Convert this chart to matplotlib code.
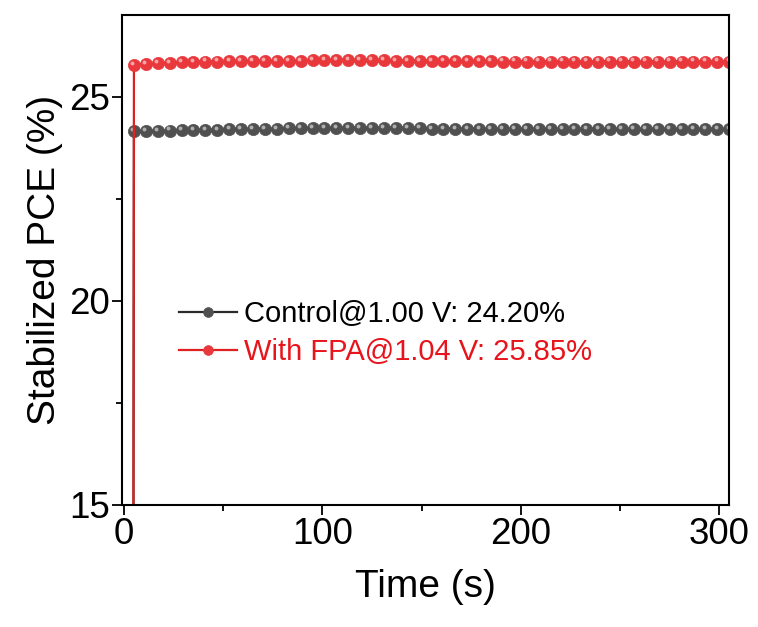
import matplotlib
matplotlib.use("Agg")
import matplotlib.pyplot as plt
import matplotlib.transforms as mtransforms
from matplotlib.ticker import MultipleLocator

plt.rcParams['font.family'] = ['Liberation Sans', 'DejaVu Sans']

time_s = [5 + 6 * i for i in range(51)]
control = [24.15, 24.16, 24.16, 24.17, 24.18, 24.18, 24.19, 24.19, 24.20, 24.20,
           24.21, 24.21, 24.21, 24.22, 24.22, 24.22, 24.22, 24.22, 24.22, 24.23,
           24.23, 24.23, 24.22, 24.22, 24.22, 24.21, 24.21, 24.21, 24.21, 24.21,
           24.20, 24.20, 24.20, 24.20, 24.20, 24.20, 24.20, 24.20, 24.20, 24.20,
           24.20, 24.20, 24.20, 24.20, 24.20, 24.20, 24.20, 24.20, 24.20, 24.20, 24.20]
fpa = [25.78, 25.80, 25.82, 25.83, 25.84, 25.85, 25.86, 25.86, 25.87, 25.87,
       25.88, 25.88, 25.88, 25.88, 25.88, 25.89, 25.89, 25.89, 25.89, 25.89,
       25.89, 25.89, 25.88, 25.88, 25.88, 25.88, 25.87, 25.87, 25.87, 25.87,
       25.87, 25.86, 25.86, 25.86, 25.86, 25.86, 25.86, 25.86, 25.86, 25.86,
       25.86, 25.86, 25.86, 25.86, 25.86, 25.86, 25.86, 25.86, 25.86, 25.86, 25.86]
# initial ramp points (before steady state)
ramp_t = [4.4]
ramp_control = [0.0]
ramp_fpa = [0.0]

labels = ["Control@1.00 V: 24.20%", "With FPA@1.04 V: 25.85%"]

fig = plt.figure(figsize=(7.58, 6.27), dpi=100)
ax = fig.add_axes([0.161, 0.195, 0.801, 0.781])

series = [
    (control, ramp_control, '#505050', '#2b2b2b', labels[0]),
    (fpa, ramp_fpa, '#e8383c', '#e02020', labels[1]),
]
hl = mtransforms.offset_copy(ax.transData, fig=fig, x=-1.2, y=1.5, units='points')
for vals, ramp, mcol, lcol, lab in series:
    ax.plot(ramp_t + time_s, ramp + vals, '-', color=lcol, lw=1.6,
            marker='o', markersize=8.8, markerfacecolor=mcol,
            markeredgecolor=mcol, markeredgewidth=0.5, label=lab)
    ax.plot(time_s, vals, 'o', color='white', markersize=2.8, alpha=0.55,
            markeredgewidth=0, transform=hl)

ax.set_xlim(-1, 305)
ax.set_ylim(15, 27)
ax.xaxis.set_major_locator(MultipleLocator(100))
ax.xaxis.set_minor_locator(MultipleLocator(50))
ax.yaxis.set_major_locator(MultipleLocator(5))
ax.yaxis.set_minor_locator(MultipleLocator(2.5))
ax.tick_params(which='both', direction='out', top=False, right=False, width=1.3)
ax.tick_params(which='major', length=7, labelsize=26.5, pad=2)
ax.tick_params(which='minor', length=4)
for s in ax.spines.values():
    s.set_linewidth(1.5)
ax.set_xlabel('Time (s)', fontsize=28, labelpad=12)
ax.set_ylabel('Stabilized PCE (%)', fontsize=28, labelpad=4)

leg = ax.legend(loc='center left', bbox_to_anchor=(0.05, 0.35), frameon=False,
                fontsize=21, handlelength=2.0, handletextpad=0.25, labelspacing=0.35,
                markerscale=0.8)
for txt, col in zip(leg.get_texts(), ['black', '#e8141c']):
    txt.set_color(col)

fig.savefig('out.png', dpi=100)
